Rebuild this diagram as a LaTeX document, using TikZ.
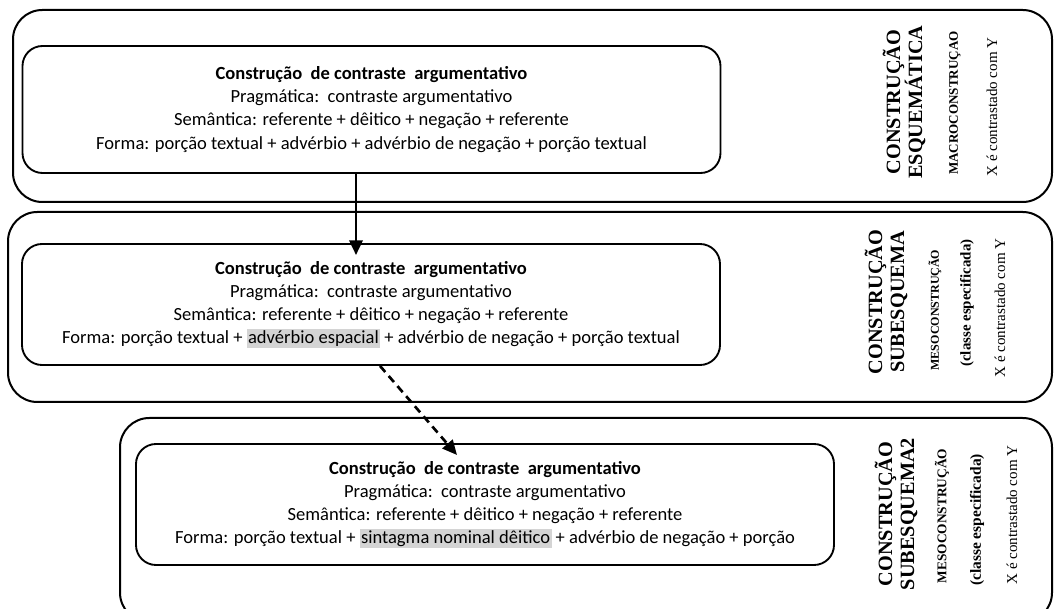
\documentclass[tikz,border=0pt]{standalone}
\usepackage{fontspec}
\setmainfont{Carlito}
\newfontfamily\sidefont{Liberation Serif}
\usetikzlibrary{arrows.meta}

\tikzset{
  outbox/.style={line width=1.5pt, rounded corners=22pt},
  inbox/.style={draw, line width=1.4pt, rounded corners=15pt, minimum width=523.5pt, minimum height=90.75pt,
    align=center, inner sep=0pt, font=\fontsize{13.9pt}{17.3pt}\selectfont},
  sidebig/.style={rotate=90, align=center, inner sep=0pt, font=\sidefont\bfseries\fontsize{15.2pt}{16.5pt}\selectfont},
  sidesmall/.style={rotate=90, inner sep=0pt, font=\sidefont\bfseries\fontsize{#1}{11pt}\selectfont},
  sideclass/.style={rotate=90, inner sep=0pt, font=\sidefont\bfseries\fontsize{#1}{12pt}\selectfont},
  sidetext/.style={rotate=90, inner sep=0pt, font=\sidefont\fontsize{11.3pt}{13pt}\selectfont},
  tipfull/.style={-{Triangle[length=11pt,width=10pt]}},
}
\newcommand{\hlgray}[1]{{\setlength{\fboxsep}{1pt}\colorbox{black!17}{#1}}}

\begin{document}
\begin{tikzpicture}[x=0.75pt,y=-0.75pt]
\useasboundingbox (0,0) rectangle (1054,609);
\clip (0,0) rectangle (1054,609);

\draw[outbox] (13,10) rectangle (1052,202);
\draw[outbox] (8,212) rectangle (1052,402);
\draw[outbox] (120,418) rectangle (1052,622);

\node[inbox, minimum height=95.25pt] (b1) at (371.5,109.5) {\textbf{Construção\ \ de contraste\ \ argumentativo}\\
  Pragmática:\ \ contraste argumentativo\\
  Semântica: referente + dêitico + negação + referente\\
  Forma: porção textual + advérbio + advérbio de negação + porção textual};

\node[inbox] (b2) at (371,304.5) {\textbf{Construção\ \ de contraste\ \ argumentativo}\\
  Pragmática:\ \ contraste argumentativo\\
  Semântica: referente + dêitico + negação + referente\\
  Forma: porção textual + \hlgray{advérbio espacial} + advérbio de negação + porção textual};

\node[inbox] (b3) at (485,504.5) {\textbf{Construção\ \ de contraste\ \ argumentativo}\\
  Pragmática:\ \ contraste argumentativo\\
  Semântica: referente + dêitico + negação + referente\\
  Forma: porção textual + \hlgray{sintagma nominal dêitico} + advérbio de negação + porção};

\node[sidebig] (k1) at (904,102) {CONSTRUÇÃO\\ESQUEMÁTICA};
\node[sidesmall=9.8pt] (m1) at (955,103) {MACROCONSTRUÇAO};
\node[sidetext] (x1) at (992,107) {X é contrastado com Y};

\node[sidebig] (k2) at (886,302) {CONSTRUÇÃO\\SUBESQUEMA};
\node[sidesmall=9pt] (m2) at (935,310) {MESOCONSTRUÇÃO};
\node[sideclass=11.2pt] (c2) at (967,303) {(classe especificada)};
\node[sidetext] (x2) at (1000,308) {X é contrastado com Y};

\node[sidebig] (k3) at (896,514) {CONSTRUÇÃO\\SUBESQUEMA2};
\node[sidesmall=10pt] (m3) at (942,516) {MESOCONSTRUÇÃO};
\node[sideclass=11.6pt] (c3) at (977,520) {(classe especificada)};
\node[sidetext] (x3) at (1012,515) {X é contrastado com Y};

\coordinate (t1) at (356,255);
\draw[line width=1.8pt, tipfull] (b1.south -| t1) -- (t1);
\coordinate (s2) at (380,364);
\coordinate (t2) at (457,455);
\draw[line width=2pt, dash pattern=on 6pt off 4pt, tipfull] (b2.south -| s2) -- (t2);
\end{tikzpicture}
\end{document}
